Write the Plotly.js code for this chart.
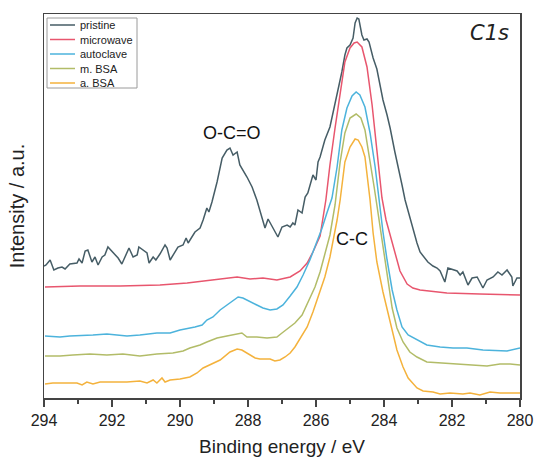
<!DOCTYPE html>
<html>
<head>
<meta charset="utf-8">
<script src="https://cdn.plot.ly/plotly-3.0.1.min.js"></script>
<style>
  html, body { margin: 0; padding: 0; background: #fff; }
  #chart { width: 534px; height: 457px; }
</style>
</head>
<body>
<div id="chart"></div>
<script>
// ---------- data (binding energy in eV, intensity in arbitrary units) ----------
const seriesNames = ['pristine', 'microwave', 'autoclave', 'm. BSA', 'a. BSA'];
const seriesColors = ['#465d66', '#e8566e', '#4cb3dc', '#b2bc68', '#f4b23c'];

const energyPristine = [294.00,293.94,293.82,293.71,293.59,293.47,293.38,293.24,293.03,292.97,292.88,292.79,292.71,292.59,292.50,292.41,292.29,292.21,292.12,291.97,291.82,291.71,291.62,291.50,291.38,291.26,291.21,291.09,290.97,290.91,290.79,290.71,290.59,290.44,290.38,290.29,290.15,290.06,289.91,289.82,289.76,289.65,289.56,289.41,289.32,289.21,289.15,289.06,288.91,288.76,288.62,288.53,288.44,288.32,288.24,288.03,287.88,287.74,287.59,287.50,287.41,287.29,287.12,287.00,286.85,286.76,286.68,286.62,286.53,286.41,286.32,286.24,286.09,286.00,285.94,285.88,285.74,285.59,285.50,285.35,285.24,285.15,285.09,285.00,284.91,284.85,284.79,284.74,284.71,284.65,284.59,284.50,284.44,284.32,284.21,284.12,284.03,283.91,283.82,283.68,283.59,283.47,283.38,283.24,283.15,283.03,282.94,282.79,282.71,282.56,282.44,282.35,282.21,282.12,281.97,281.85,281.76,281.68,281.53,281.41,281.26,281.18,281.09,280.97,280.79,280.65,280.53,280.38,280.24,280.21,280.09,280.00];
const intensityPristine = [132,133,138,128,130,131,129,134,135,139,135,147,148,136,141,133,141,143,151,146,140,134,141,150,141,143,151,148,145,135,141,138,144,153,150,138,146,151,153,160,155,161,166,170,178,190,186,196,216,240,248,250,243,246,233,221,211,198,181,170,179,171,161,171,173,171,175,173,188,185,201,205,223,218,236,241,258,271,285,306,326,343,350,353,360,375,380,379,374,363,358,359,356,340,329,315,298,283,270,246,233,213,198,180,170,155,146,140,136,132,130,127,116,130,128,127,123,126,113,120,121,115,110,118,121,126,123,128,121,112,120,120];

const energyMicrowave = [293.97,292.94,291.76,290.59,289.79,289.32,288.82,288.32,287.94,287.56,287.15,286.76,286.47,286.26,286.09,285.88,285.71,285.59,285.44,285.29,285.15,285.00,284.88,284.79,284.65,284.50,284.35,284.21,284.06,283.94,283.82,283.68,283.53,283.32,283.15,282.94,282.15,281.18,280.00];
const intensityMicrowave = [111,112,112,113,115,117,119,121,119,120,118,121,127,135,146,162,198,233,270,306,336,350,355,356,351,331,293,248,200,178,163,145,127,114,110,108,105,104,103];

const energyAutoclave = [293.97,293.53,293.24,292.85,292.56,292.15,291.56,291.18,290.68,290.29,290.00,289.56,289.35,289.21,289.03,288.82,288.62,288.44,288.29,288.15,287.94,287.74,287.56,287.35,287.15,286.97,286.76,286.56,286.38,286.18,286.00,285.82,285.68,285.53,285.38,285.24,285.09,284.94,284.82,284.71,284.56,284.41,284.26,284.15,284.03,283.91,283.76,283.62,283.47,283.29,283.03,282.74,282.35,281.97,281.56,281.09,280.38,280.00];
const intensityAutoclave = [62,61,62,63,63,64,62,63,65,65,68,71,73,78,81,88,93,98,101,100,96,93,90,88,89,93,102,111,123,138,154,170,185,200,231,268,290,302,306,303,291,265,231,198,166,138,108,88,71,63,58,53,51,50,50,48,47,50];

const energyMBSA = [293.97,293.53,293.15,292.65,292.15,291.68,291.18,290.68,290.21,289.91,289.71,289.41,289.21,288.91,288.62,288.32,288.18,288.03,287.74,287.44,287.15,287.00,286.82,286.62,286.41,286.24,286.03,285.88,285.74,285.59,285.44,285.29,285.15,285.00,284.82,284.68,284.56,284.41,284.29,284.21,284.06,283.91,283.76,283.62,283.44,283.24,283.03,282.74,282.35,281.97,281.56,280.97,280.59,280.29,280.00];
const intensityMBSA = [42,42,43,44,43,44,42,44,45,47,50,53,56,60,62,64,65,61,61,60,61,65,70,75,83,95,111,126,143,163,193,236,265,280,284,280,268,238,211,193,158,120,90,70,56,46,41,36,35,34,33,32,34,34,33];

const energyABSA = [293.97,293.74,293.32,293.03,292.88,292.74,292.56,292.35,291.97,291.56,291.18,290.97,290.79,290.68,290.53,290.44,290.29,290.00,289.71,289.50,289.32,289.12,288.82,288.53,288.32,288.18,288.00,287.79,287.65,287.35,287.21,287.06,286.91,286.76,286.62,286.47,286.26,286.09,285.88,285.74,285.59,285.38,285.29,285.15,285.00,284.85,284.76,284.65,284.56,284.50,284.41,284.32,284.21,284.03,283.82,283.62,283.44,283.29,283.03,282.85,282.56,282.35,282.06,281.68,281.47,281.18,280.88,280.59,280.29,280.00];
const intensityABSA = [14,15,15,15,13,16,14,16,16,16,17,15,18,15,20,16,18,19,21,25,30,33,38,46,49,48,44,40,39,39,37,38,41,45,51,59,71,86,106,121,141,178,198,236,251,259,258,251,241,226,198,165,136,106,76,48,31,20,10,7,6,4,5,4,5,3,6,5,5,5];

const xTicks = [294, 292, 290, 288, 286, 284, 282, 280];
const peakLabels = ['O-C=O', 'C-C'];
const peakLabelEnergy = [288.47, 284.93];
const peakLabelIntensity = [265, 159];

const energies = [energyPristine, energyMicrowave, energyAutoclave, energyMBSA, energyABSA];
const intensities = [intensityPristine, intensityMicrowave, intensityAutoclave, intensityMBSA, intensityABSA];

// ---------- traces ----------
const traces = seriesNames.map((name, i) => ({
  type: 'scatter',
  mode: 'lines',
  name: name,
  x: energies[i],
  y: intensities[i],
  line: { color: seriesColors[i], width: 1.5 },
  showlegend: false,
  hoverinfo: 'x+y+name'
}));

// ---------- layout helpers (plot area in px: left 44, right 520, top 14, bottom 398) ----------
const PL = 44, PR = 520, PT = 14, PB = 398;
const px2x = px => (px - PL) / (PR - PL);
const px2y = py => (PB - py) / (PB - PT);

const font = 'Liberation Sans, Arial, Helvetica, sans-serif';

// legend drawn as a boxed list in the upper-left corner
const shapes = [{
  type: 'rect', xref: 'paper', yref: 'paper',
  x0: px2x(47), x1: px2x(137), y0: px2y(88), y1: px2y(18),
  line: { color: '#9a9a9a', width: 1 }, fillcolor: 'rgba(255,255,255,0)'
}];
const annotations = [];
seriesNames.forEach((name, i) => {
  const py = 25 + i * 14.5;
  shapes.push({
    type: 'line', xref: 'paper', yref: 'paper',
    x0: px2x(50), x1: px2x(75), y0: px2y(py), y1: px2y(py),
    line: { color: seriesColors[i], width: 1.5 }
  });
  annotations.push({
    xref: 'paper', yref: 'paper', x: px2x(78), y: px2y(py),
    xanchor: 'left', yanchor: 'middle', showarrow: false,
    text: name, font: { family: font, size: 11, color: '#222' }
  });
});

peakLabels.forEach((t, i) => {
  annotations.push({
    x: peakLabelEnergy[i], y: peakLabelIntensity[i], xref: 'x', yref: 'y',
    showarrow: false, text: t, xanchor: 'center', yanchor: 'middle',
    font: { family: font, size: 18, color: '#111' }
  });
});

annotations.push({
  xref: 'paper', yref: 'paper', x: px2x(511), y: px2y(33),
  xanchor: 'right', yanchor: 'middle', showarrow: false,
  text: '<i>C1s</i>', font: { family: 'DejaVu Sans, sans-serif', size: 21, color: '#222' }
});

const layout = {
  width: 534, height: 457,
  margin: { l: PL, r: 534 - PR, t: PT, b: 457 - PB, pad: 0 },
  paper_bgcolor: '#ffffff', plot_bgcolor: '#ffffff',
  showlegend: false,
  font: { family: font, color: '#222' },
  xaxis: {
    range: [294, 280],
    tickmode: 'array', tickvals: xTicks, ticktext: xTicks.map(String),
    ticks: 'outside', ticklen: 7, tickwidth: 1.2, tickcolor: '#444',
    minor: { dtick: 1, ticks: 'outside', ticklen: 4, tickwidth: 1.2, tickcolor: '#444', showgrid: false },
    showline: true, mirror: true, linecolor: '#444', linewidth: 1.5,
    showgrid: false, zeroline: false,
    tickfont: { family: font, size: 16, color: '#222' },
    title: { text: 'Binding energy / eV', font: { family: font, size: 19, color: '#222' }, standoff: 12 }
  },
  yaxis: {
    range: [0, 384],
    showticklabels: false, ticks: '',
    showline: true, mirror: true, linecolor: '#444', linewidth: 1.5,
    showgrid: false, zeroline: false,
    title: { text: 'Intensity / a.u.', font: { family: font, size: 20, color: '#222' }, standoff: 12 }
  },
  shapes: shapes,
  annotations: annotations
};

Plotly.newPlot('chart', traces, layout, { displayModeBar: false, staticPlot: true });
</script>
</body>
</html>
